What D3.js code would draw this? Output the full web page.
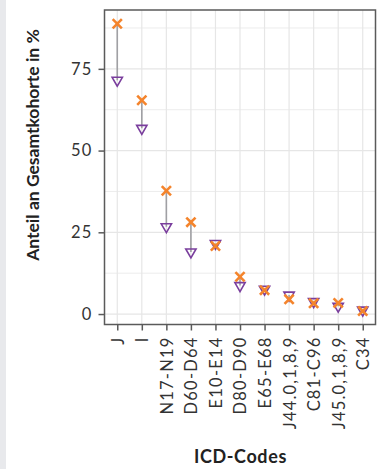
<!DOCTYPE html>
<html>
<head>
<meta charset="utf-8">
<script src="https://cdn.jsdelivr.net/npm/d3@7"></script>
<style>
  html, body { margin: 0; padding: 0; background: #fff; }
  svg { display: block; }
</style>
</head>
<body>
<script>
// ICD code groups along the x axis
const categories = ["J", "I", "N17-N19", "D60-D64", "E10-E14", "D80-D90", "E65-E68", "J44.0,1,8,9", "C81-C96", "J45.0,1,8,9", "C34"];
// Share of the total cohort in %, two groups
const orangeValues = [88.8, 65.4, 37.7, 28.1, 20.8, 11.4, 7.3, 4.5, 3.3, 3.4, 0.9];
const purpleValues = [71.5, 56.8, 26.7, 19.0, 21.6, 8.7, 7.6, 5.8, 3.8, 2.4, 1.2];
const yTicks = [0, 25, 50, 75];
const yMinorTicks = [12.5, 37.5, 62.5, 87.5];

const W = 380, H = 469;
const panel = { left: 104.5, top: 10, right: 375.5, bottom: 324.5 };
const orange = "#f4842c", purple = "#7a3e9d", seg = "#a0a0a4";
const font = "Lato, 'Open Sans', sans-serif";

const svg = d3.select("body").append("svg").attr("width", W).attr("height", H);

// light strip at the left edge
svg.append("rect").attr("x", 0).attr("y", 0).attr("width", 6).attr("height", H).attr("fill", "#e8e9ec");

const x = d3.scalePoint().domain(categories).range([panel.left, panel.right]).padding(0.52);
const y = d3.scaleLinear().domain([-3.2, 93]).range([panel.bottom, panel.top]);

// grid
const grid = svg.append("g");
grid.selectAll("line.minor").data(yMinorTicks).join("line")
  .attr("x1", panel.left).attr("x2", panel.right)
  .attr("y1", d => y(d)).attr("y2", d => y(d))
  .attr("stroke", "#ececec").attr("stroke-width", 1);
grid.selectAll("line.major").data(yTicks).join("line")
  .attr("x1", panel.left).attr("x2", panel.right)
  .attr("y1", d => y(d)).attr("y2", d => y(d))
  .attr("stroke", "#e6e6e6").attr("stroke-width", 1.2);
grid.selectAll("line.vert").data(categories).join("line")
  .attr("x1", d => x(d)).attr("x2", d => x(d))
  .attr("y1", panel.top).attr("y2", panel.bottom)
  .attr("stroke", "#e6e6e6").attr("stroke-width", 1.2);

// connecting segments
const rows = categories.map((c, i) => ({ c, o: orangeValues[i], p: purpleValues[i] }));
svg.append("g").selectAll("line").data(rows).join("line")
  .attr("x1", d => x(d.c)).attr("x2", d => x(d.c))
  .attr("y1", d => y(d.o)).attr("y2", d => y(d.p))
  .attr("stroke", seg).attr("stroke-width", 1.6);

// purple down-triangles
const tri = d3.symbol().type(d3.symbolTriangle).size(46);
svg.append("g").selectAll("path").data(rows).join("path")
  .attr("d", tri)
  .attr("transform", d => `translate(${x(d.c)},${y(d.p)}) rotate(180)`)
  .attr("fill", "none").attr("stroke", purple).attr("stroke-width", 1.6);

// orange crosses
const xs = 4.6;
const cross = svg.append("g").selectAll("g").data(rows).join("g")
  .attr("transform", d => `translate(${x(d.c)},${y(d.o)})`);
cross.append("line").attr("x1", -xs).attr("y1", -xs).attr("x2", xs).attr("y2", xs)
  .attr("stroke", orange).attr("stroke-width", 2.6);
cross.append("line").attr("x1", -xs).attr("y1", xs).attr("x2", xs).attr("y2", -xs)
  .attr("stroke", orange).attr("stroke-width", 2.6);

// panel border
svg.append("rect")
  .attr("x", panel.left).attr("y", panel.top)
  .attr("width", panel.right - panel.left).attr("height", panel.bottom - panel.top)
  .attr("fill", "none").attr("stroke", "#5a5a5a").attr("stroke-width", 1.5);

// y axis
const yAxis = svg.append("g").attr("transform", `translate(${panel.left},0)`)
  .call(d3.axisLeft(y).tickValues(yTicks).tickSize(6).tickPadding(6));
yAxis.select(".domain").remove();
yAxis.selectAll(".tick line").attr("stroke", "#5a5a5a").attr("stroke-width", 1.5);
yAxis.selectAll(".tick text").attr("fill", "#333").style("font-family", font)
  .style("font-size", "16.5px").style("letter-spacing", "1.2px");

// x axis
const xAxis = svg.append("g").attr("transform", `translate(0,${panel.bottom})`)
  .call(d3.axisBottom(x).tickSize(6).tickPadding(5));
xAxis.select(".domain").remove();
xAxis.selectAll(".tick line").attr("stroke", "#5a5a5a").attr("stroke-width", 1.5);
xAxis.selectAll(".tick text")
  .attr("fill", "#333").style("font-family", font).style("font-size", "16.5px")
  .style("letter-spacing", "1.2px")
  .attr("transform", "rotate(-90)")
  .attr("text-anchor", "end")
  .attr("x", -12).attr("y", 0).attr("dy", "0.36em");

// axis titles
svg.append("text")
  .attr("x", 240.5).attr("y", 463)
  .attr("text-anchor", "middle")
  .style("font-family", font).style("font-weight", "bold").style("font-size", "18px")
  .style("letter-spacing", "0.6px")
  .attr("fill", "#222").text("ICD-Codes");
svg.append("text")
  .attr("transform", `translate(39,145) rotate(-90)`)
  .attr("text-anchor", "middle")
  .style("font-family", font).style("font-weight", "bold").style("font-size", "17.5px")
  .attr("fill", "#222").text("Anteil an Gesamtkohorte in %");
</script>
</body>
</html>
